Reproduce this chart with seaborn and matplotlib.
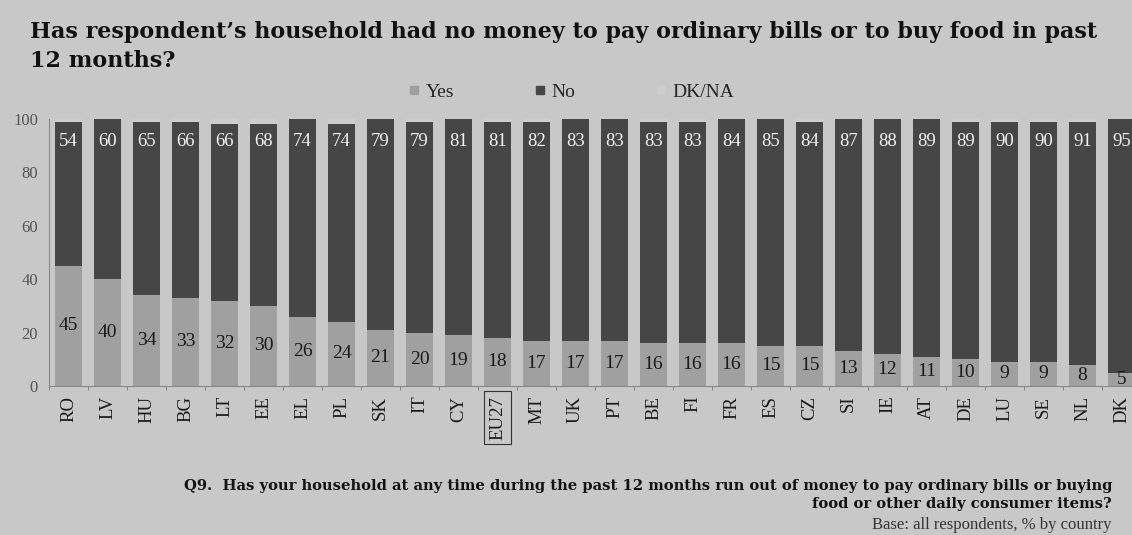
import matplotlib
matplotlib.use("Agg")
import matplotlib.pyplot as plt
import seaborn as sns
import pandas as pd
from matplotlib.lines import Line2D
from matplotlib.ticker import FixedLocator

# data
countries = ['RO', 'LV', 'HU', 'BG', 'LT', 'EE', 'EL', 'PL', 'SK', 'IT', 'CY', 'EU27', 'MT', 'UK',
             'PT', 'BE', 'FI', 'FR', 'ES', 'CZ', 'SI', 'IE', 'AT', 'DE', 'LU', 'SE', 'NL', 'DK']
yes_vals = [45, 40, 34, 33, 32, 30, 26, 24, 21, 20, 19, 18, 17, 17,
            17, 16, 16, 16, 15, 15, 13, 12, 11, 10, 9, 9, 8, 5]
no_vals = [54, 60, 65, 66, 66, 68, 74, 74, 79, 79, 81, 81, 82, 83,
           83, 83, 83, 84, 85, 84, 87, 88, 89, 89, 90, 90, 91, 95]
dkna_vals = [1, 0, 1, 1, 2, 2, 0, 2, 0, 1, 0, 1, 1, 0,
             0, 1, 1, 0, 0, 1, 0, 0, 0, 1, 1, 1, 1, 0]
y_ticks = [0, 20, 40, 60, 80, 100]

BG = '#c8c8c8'
C_YES = '#a0a0a0'
C_NO = '#464646'
C_DK = '#cdcdcd'
SERIF = ['Liberation Serif', 'DejaVu Serif']
WIDE = ['DejaVu Serif']

df = pd.DataFrame({'country': countries, 'yes': yes_vals, 'no': no_vals, 'dk': dkna_vals})
df['yes_no'] = df['yes'] + df['no']
df['total'] = df['yes_no'] + df['dk']

sns.set_theme(style='white')
plt.rcParams['font.family'] = SERIF

fig = plt.figure(figsize=(11.32, 5.35), dpi=100, facecolor=BG)
ax = fig.add_axes([49 / 1132, (535 - 386) / 535, 1 - 49 / 1132, (386 - 119) / 535])
ax.set_facecolor(BG)

# stacked bars by overlaying cumulative totals
bar_kw = dict(width=0.7, saturation=1, linewidth=0, edgecolor='none', ax=ax)
sns.barplot(data=df, x='country', y='total', color=C_DK, **bar_kw)
sns.barplot(data=df, x='country', y='yes_no', color=C_NO, **bar_kw)
sns.barplot(data=df, x='country', y='yes', color=C_YES, **bar_kw)

for i, row in df.iterrows():
    ax.text(i, row['yes'] / 2, str(row['yes']), ha='center', va='center',
            fontsize=14, color='#1a1a1a')
    ax.text(i, 91.5, str(row['no']), ha='center', va='center',
            fontsize=13.5, color='#f0f0f0')

ax.set_xlim(-0.5, 27.27)
ax.set_ylim(0, 100)
ax.set_xlabel('')
ax.set_ylabel('')
ax.yaxis.set_major_locator(FixedLocator(y_ticks))
ax.tick_params(axis='y', labelsize=12, colors='#555555', length=3, width=0.6, pad=5)
ax.tick_params(axis='x', which='major', length=0, labelsize=13.5, labelcolor='#1a1a1a', pad=7)
ax.set_xticks(range(len(countries)))
ax.set_xticklabels(countries, rotation=90)
ax.xaxis.set_minor_locator(FixedLocator([i - 0.5 for i in range(len(countries) + 1)]))
ax.tick_params(axis='x', which='minor', bottom=True, length=3, width=0.6, color='#777777')
for lab in ax.get_xticklabels():
    if lab.get_text() == 'EU27':
        lab.set_bbox(dict(facecolor='none', edgecolor='#333333', boxstyle='square,pad=0.25', lw=0.8))
for s in ['top', 'right']:
    ax.spines[s].set_visible(False)
for s in ['left', 'bottom']:
    ax.spines[s].set_color('#888888')
    ax.spines[s].set_linewidth(0.8)

# legend
handles = [Line2D([], [], marker='s', linestyle='', color=c, markersize=6, label=l)
           for c, l in [(C_YES, 'Yes'), (C_NO, 'No'), (C_DK, 'DK/NA')]]
fig.legend(handles=handles, loc='center', bbox_to_anchor=(0.505, 0.828), ncol=3, frameon=False,
           fontsize=14, handlelength=0.6, handletextpad=0.3, columnspacing=4.1)

# titles and notes
fig.text(30 / 1132, 1 - 21 / 535,
         "Has respondent\u2019s household had no money to pay ordinary bills or to buy food in past\n12 months?",
         ha='left', va='top', fontsize=16, fontweight='bold', family=WIDE, color='#111111',
         linespacing=1.4)
fig.text(1112 / 1132, 1 - 479 / 535,
         "Q9.  Has your household at any time during the past 12 months run out of money to pay ordinary bills or buying\nfood or other daily consumer items?",
         ha='right', va='top', fontsize=10.6, fontweight='bold', family=WIDE, color='#111111',
         multialignment='right', linespacing=1.35)
fig.text(1112 / 1132, 1 - 517 / 535, "Base: all respondents, % by country",
         ha='right', va='top', fontsize=12, family=SERIF, color='#333333')

fig.savefig('out.png', dpi=100, facecolor=BG)
